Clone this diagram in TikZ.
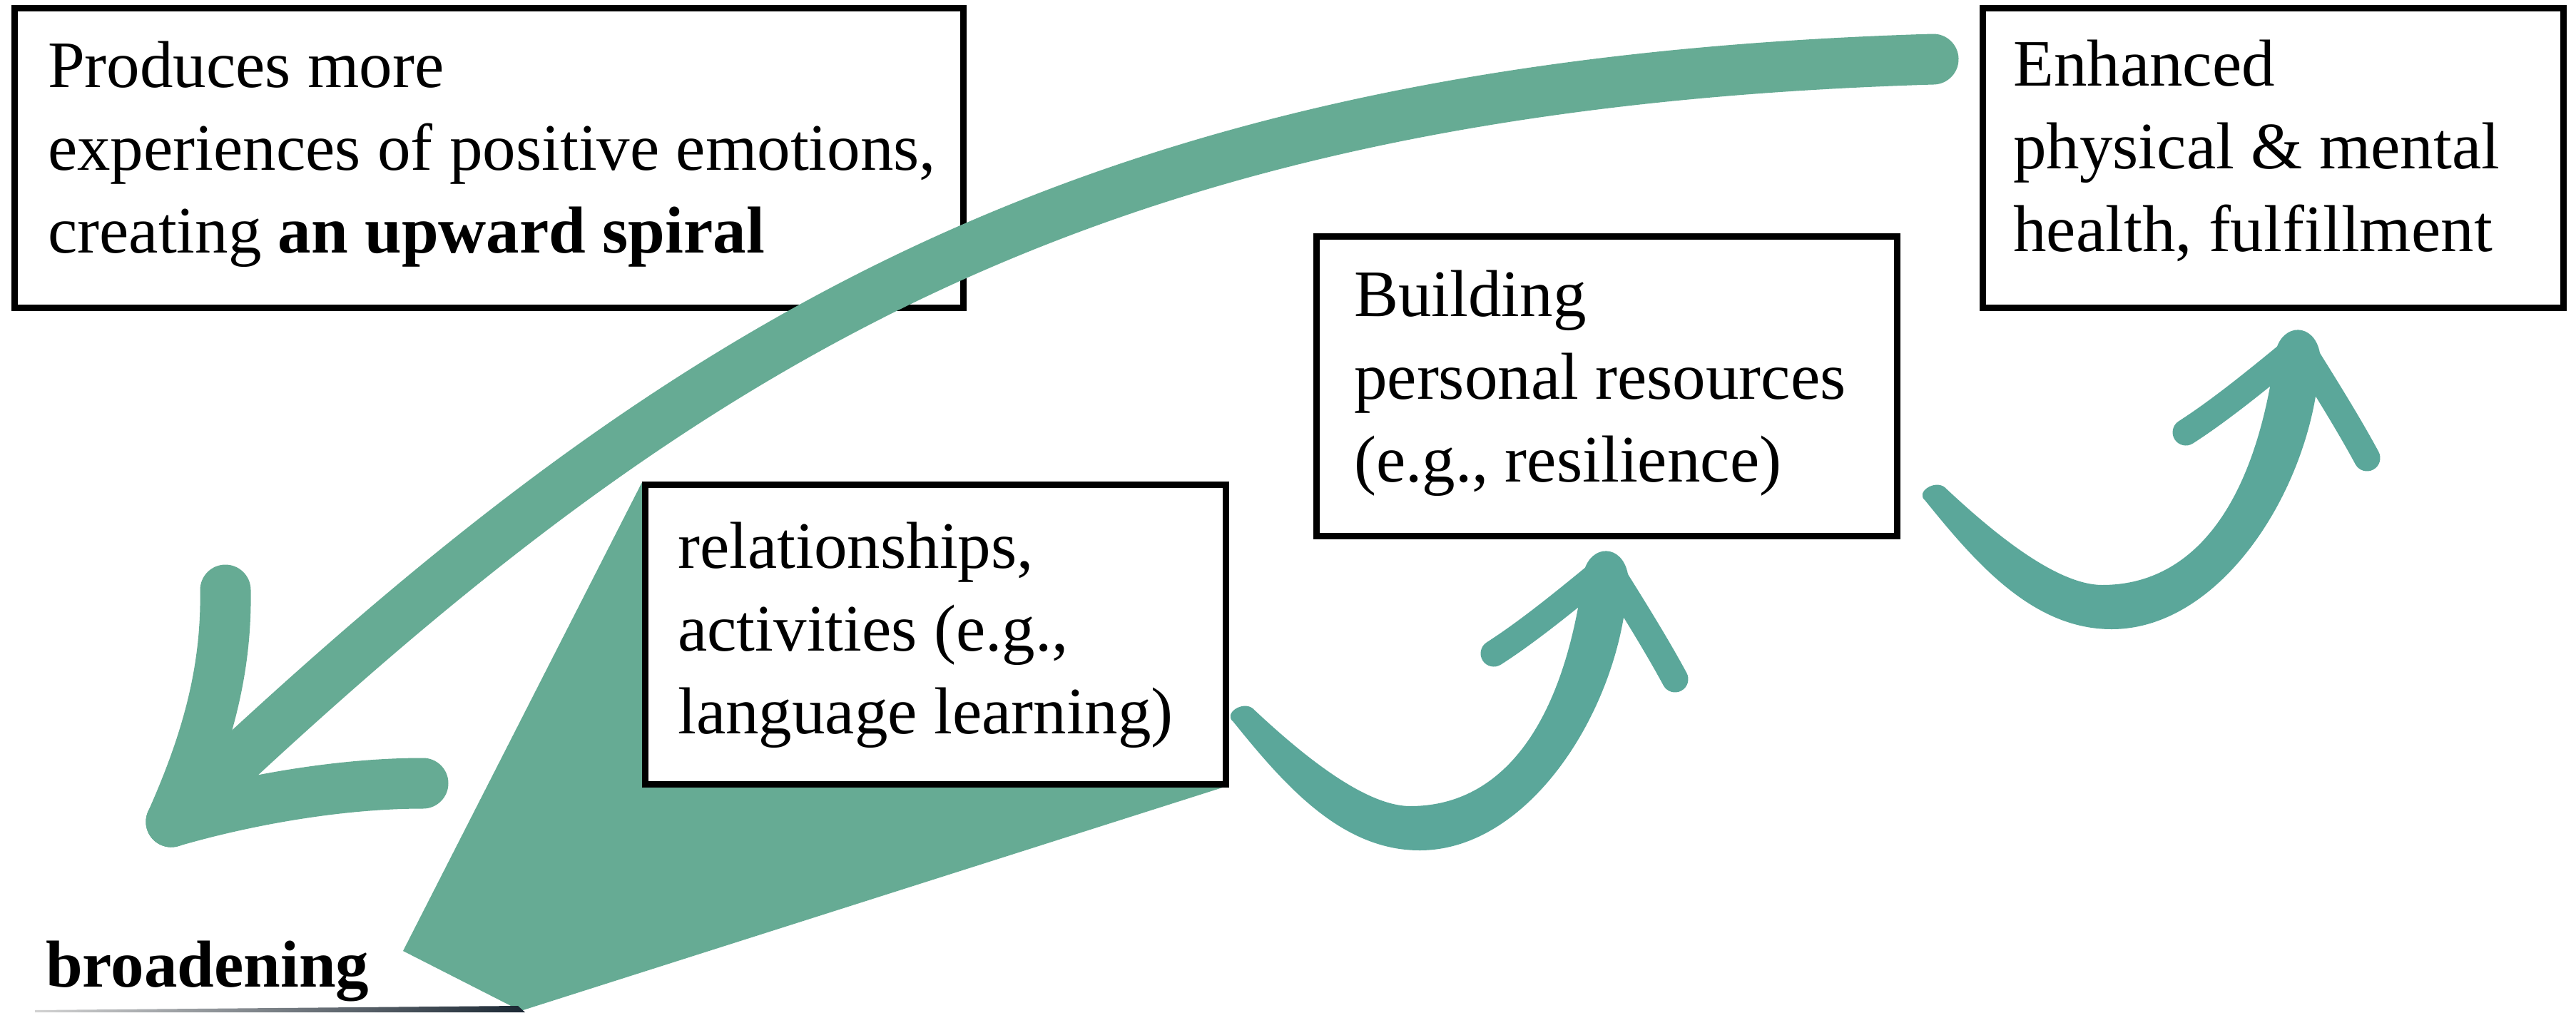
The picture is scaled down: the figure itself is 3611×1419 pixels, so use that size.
\documentclass[tikz,border=0pt]{standalone}
\usepackage{fontspec}
\setmainfont{Liberation Serif}
\definecolor{arcgreen}{RGB}{102,171,148}
\definecolor{brushteal}{RGB}{91,167,154}
\definecolor{edgenavy}{RGB}{27,40,52}
\begin{document}
\begin{tikzpicture}[x=1pt, y=-1pt,
  box/.style={draw=black, line width=9pt, fill=white, inner sep=0pt, outer sep=0pt,
              minimum height=420pt},
  boxtext/.style={anchor=north west, inner sep=0pt, align=left,
                  font=\fontsize{93}{116}\selectfont},
  bigstroke/.style={draw=arcgreen, line width=71pt, line cap=round},
  prong/.style={draw=brushteal, line width=37pt, line cap=round},
  brusharrow/.pic={
    % hand-drawn curved shaft, thin at the start and wider along the bend
    \fill[brushteal] (14,-7)
      .. controls (80,55) and (170,130) .. (235,130)
      .. controls (355,130) and (448,30) .. (478,-198)
      .. controls (488,-238) and (532,-238) .. (540,-195)
      .. controls (536,-20) and (408,192) .. (248,192)
      .. controls (138,192) and (58,100) .. (-13,12)
      .. controls (-28,0) and (0,-18) .. cycle;
    % the two barbs of the head
    \draw[prong] (510,-205) .. controls (465,-168) and (405,-118) .. (352,-84);
    \draw[prong] (512,-205) .. controls (540,-160) and (578,-100) .. (606,-48);
  }
]
\useasboundingbox (0,0) rectangle (3611,1419);

% wedge fanning out from the activities box
\coordinate (wl) at (565,1333);
\coordinate (wb) at (730,1417);
\fill[arcgreen] (900,676) -- (wl) -- (wb) -- (1723,1101) -- cycle;

% thin dark edge along the bottom
\shade[left color=gray!35, right color=edgenavy] (49,1419) -- (49,1416) -- (726,1410) -- (736,1419) -- cycle;

% boxes
\node[box, minimum width=1330pt] (b1) at (685.5,221) {};
\node[box, minimum width=814pt] (b2) at (3186.5,221) {};
\node[box, minimum width=814pt] (b3) at (2252,541) {};
\node[box, minimum width=814pt] (b4) at (1311.5,889.5) {};

% box texts
\node[boxtext] (t1) at (67,47) {\rule{0pt}{75pt}Produces more\\experiences of positive emotions,\\creating \textbf{an upward spiral}};
\node[boxtext] (t2) at (2822,45) {\rule{0pt}{75pt}Enhanced\\physical \& mental\\health, fulfillment};
\node[boxtext] (t3) at (1898,368) {\rule{0pt}{75pt}Building\\personal resources\\(e.g., resilience)};
\node[boxtext] (t4) at (950,721) {\rule{0pt}{75pt}relationships,\\activities (e.g.,\\language learning)};

\node[anchor=base west, inner sep=0pt, font=\fontsize{93}{116}\selectfont\bfseries] (broad) at (64,1383) {broadening};

% large returning arrow
\coordinate (arcstart) at (2710,83);
\coordinate (arctip) at (240,1152);
\draw[bigstroke] (arcstart) .. controls (1510,119) and (940,487) .. (arctip);
\draw[bigstroke] (316,827) .. controls (318,940) and (290,1040) .. (arctip);
\draw[bigstroke] (593,1098) .. controls (480,1098) and (350,1120) .. (arctip);

% brush arrows between the boxes
\coordinate (brushA) at (1742,1000);
\coordinate (brushB) at (2712,690);
\pic at (brushA) {brusharrow};
\pic at (brushB) {brusharrow};
\end{tikzpicture}
\end{document}
